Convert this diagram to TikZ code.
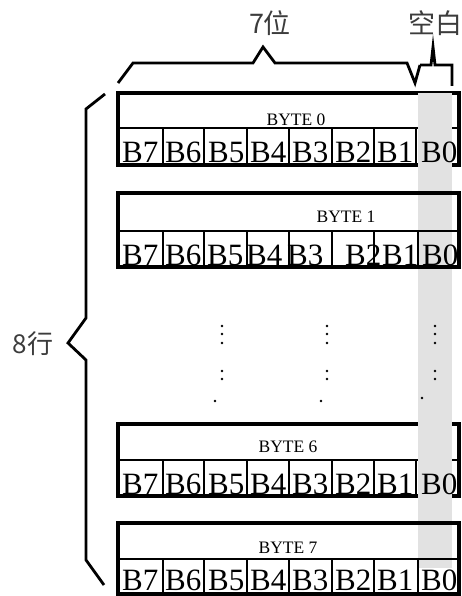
\documentclass[tikz,border=0pt]{standalone}
\usepackage{fontspec}
\setmainfont{Liberation Serif}
\newfontfamily\cjk{Noto Sans CJK SC}
\definecolor{bandgray}{RGB}{226,226,226}
\definecolor{labelgray}{RGB}{60,60,60}
\tikzset{
  frame/.style={line width=3.6pt},
  grid/.style={line width=1.1pt},
  brace/.style={line width=2.8pt, line join=miter},
  bitlabel/.style={anchor=base west, inner sep=0pt, font=\fontsize{31}{31}\selectfont},
  bytelabel/.style={anchor=base, inner sep=0pt, font=\fontsize{17.5}{17.5}\selectfont},
  cjklabel/.style={inner sep=0pt, text=labelgray, font=\cjk\fontsize{27}{27}\selectfont},
  dotmark/.style={circle, fill=black, inner sep=0pt, minimum size=2.8pt},
}
% #1 top, #2 row divider, #3 bottom, #4 last column divider
\newcommand\byteframe[4]{%
  \draw[frame] (118,#1) rectangle (459,#3);
  \draw[grid] (118,#2) -- (459,#2);
  \foreach \cx in {163,204,247,289,332,374,#4}
    \draw[grid] (\cx,#2) -- (\cx,#3);
}
% #1 name prefix, #2 baseline, #3 list of left edges
\newcommand\bitrow[3]{%
  \foreach \lx [count=\i from 0] in {#3} {
    \pgfmathtruncatemacro\bitno{7-\i}
    \node[bitlabel] (#1b\bitno) at (\lx,#2) {B\bitno};
  }
}
\begin{document}
\begin{tikzpicture}[x=1pt,y=-1pt]
\useasboundingbox (0,0) rectangle (462,596);

% rows 0 and 6 sit behind the blank column
\byteframe{93}{128}{165}{416}
\byteframe{424}{460}{496}{416}

% the blank (unused) bit column
\fill[bandgray] (418,93) rectangle (452,568);

% rows 1 and 7 sit in front of it
\fill[white] (118,193) rectangle (418,267);
\byteframe{193}{231}{267}{418}
\byteframe{523}{559}{594}{418}

% byte captions
\node[bytelabel] (byte0) at (296,126) {BYTE 0};
\node[bytelabel] (byte1) at (346,222) {BYTE 1};
\node[bytelabel] (byte6) at (288,452) {BYTE 6};
\node[bytelabel] (byte7) at (288,553) {BYTE 7};

% bit labels
\bitrow{r0}{163}{122,165,208,250,292,335,377,421}
\bitrow{r1}{265}{122,165,207,246,287,345,382,422}
\bitrow{r6}{494}{122,165,208,250,292,335,377,421}
\bitrow{r7}{590}{122,165,208,250,292,335,377,421}

% elided rows
\foreach \dx/\lx/\ly [count=\k] in {222/215/401, 327/321/401, 435/422/398} {
  \foreach \dy [count=\j] in {326,334,343,371,379}
    \node[dotmark] (d\k-\j) at (\dx,\dy) {};
  \node[dotmark] (d\k-6) at (\lx,\ly) {};
}

% brace over the seven data bits
\draw[brace] (118,83) -- (133,63) -- (253,63) -- (263,47) -- (275,63)
  -- (407,63) -- (415,83) -- (420,65);
% brace over the blank bit
\draw[brace] (420,65) -- (431,65) -- (433,47) -- (435,65) -- (452,65) -- (452,86);
% brace along the eight rows
\draw[brace] (105,94) -- (86,109) -- (86,318) -- (68,343) -- (86,360)
  -- (86,560) -- (104,585);

\node[cjklabel] (bits) at (270,23) {7位};
\node[cjklabel] (blank) at (435,23) {空白};
\node[cjklabel, font=\cjk\fontsize{26}{26}\selectfont] (rows) at (33,344) {8行};
\end{tikzpicture}
\end{document}
